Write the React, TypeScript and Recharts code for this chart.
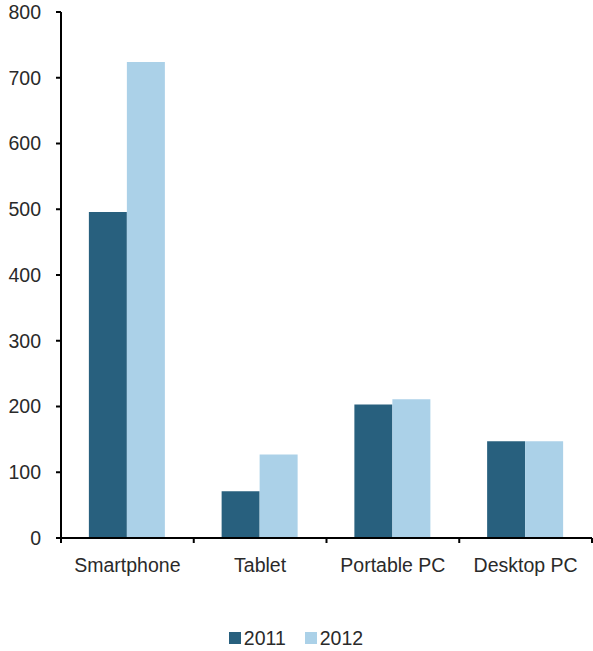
import React from 'react';
import { BarChart, Bar, XAxis, YAxis, Legend } from 'recharts';

const categories = ['Smartphone', 'Tablet', 'Portable PC', 'Desktop PC'];
const series2011 = [496, 71, 203, 147];
const series2012 = [724, 127, 211, 147];
const yTicks = [0, 100, 200, 300, 400, 500, 600, 700, 800];
const seriesNames = ['2011', '2012'];

const data = categories.map((c, i) => ({ name: c, v2011: series2011[i], v2012: series2012[i] }));

const FONT = '"Liberation Sans", Arial, sans-serif';
const TEXT_COLOR = '#2a2a2a';
const WEIGHT = 400;
const FS = 19.5;
const DARK = '#28607E';
const LIGHT = '#ABD1E8';

const XTick = (props: any) => {
  const { x, y, payload, index, visibleTicksCount } = props;
  const off = payload && typeof payload.offset === 'number' ? payload.offset : 0;
  const last = index === (visibleTicksCount ?? categories.length) - 1;
  return (
    <g>
      <line x1={x - off} x2={x - off} y1={y} y2={y + 5} stroke="#000" strokeWidth={2} />
      {last && <line x1={x + off} x2={x + off} y1={y} y2={y + 5} stroke="#000" strokeWidth={2} />}
      <text x={x} y={y + 34} textAnchor="middle" fill={TEXT_COLOR} fontSize={FS} fontFamily={FONT} fontWeight={WEIGHT}>
        {payload.value}
      </text>
    </g>
  );
};

const LegendContent = (props: any) => {
  const items = props.payload || [];
  return (
    <div style={{ display: 'flex', justifyContent: 'center', alignItems: 'center', height: 20, lineHeight: '20px' }}>
      {items.map((it: any, i: number) => (
        <div key={i} style={{ display: 'flex', alignItems: 'center', marginRight: i < items.length - 1 ? 19 : 0 }}>
          <div style={{ width: 12, height: 12, background: it.color, marginRight: 3 }} />
          <span style={{ fontFamily: FONT, fontSize: FS, fontWeight: WEIGHT, color: TEXT_COLOR }}>{it.value}</span>
        </div>
      ))}
    </div>
  );
};

export default function App() {
  return (
    <div style={{ position: 'absolute', left: 0, top: 0, background: '#fff' }}>
      <BarChart
        width={593}
        height={651}
        data={data}
        margin={{ top: 12, right: 1, left: 0, bottom: 0 }}
        barCategoryGap="21%"
        barGap={0}
      >
        <YAxis
          width={61}
          domain={[0, 800]}
          ticks={yTicks}
          interval={0}
          axisLine={{ stroke: '#000', strokeWidth: 2 }}
          tickLine={{ stroke: '#000', strokeWidth: 2 }}
          tickSize={5}
          tickMargin={15}
          tick={{ fill: TEXT_COLOR, fontSize: FS, fontFamily: FONT, fontWeight: WEIGHT }}
        />
        <XAxis
          dataKey="name"
          height={93}
          interval={0}
          axisLine={{ stroke: '#000', strokeWidth: 2 }}
          tickLine={false}
          tickSize={0}
          tickMargin={0}
          tick={<XTick />}
        />
        <Legend verticalAlign="bottom" content={<LegendContent />} wrapperStyle={{ bottom: 3 }} />
        <Bar dataKey="v2011" name={seriesNames[0]} fill={DARK} isAnimationActive={false} />
        <Bar dataKey="v2012" name={seriesNames[1]} fill={LIGHT} isAnimationActive={false} />
      </BarChart>
    </div>
  );
}
